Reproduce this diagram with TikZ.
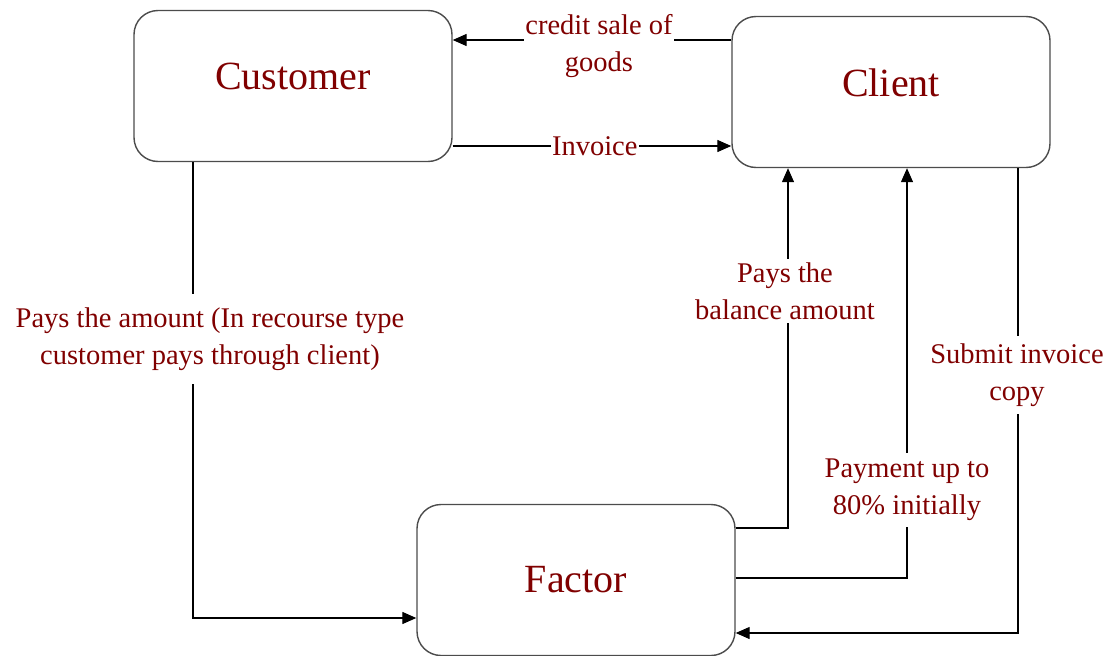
\documentclass[tikz,border=0pt]{standalone}
\usepackage{fontspec}
\setmainfont{Liberation Serif}
\usetikzlibrary{arrows.meta,calc}
\definecolor{labelred}{RGB}{128,0,0}

\begin{document}
\begin{tikzpicture}[x=1pt,y=-1pt,
  entity/.style={draw=black!70, line width=1.4pt, rounded corners=24pt,
    minimum width=318pt, minimum height=151pt, fill=white,
    text=labelred, font=\fontsize{40}{44}\selectfont},
  flow/.style={draw=black, line width=1.3pt, -{Triangle[length=14pt,width=12pt]}},
  tag/.style={fill=white, text=labelred, align=center, inner xsep=1pt, inner ysep=3pt,
    font=\fontsize{28.5}{37}\selectfont}]
\useasboundingbox (0,0) rectangle (1104,656);

% parties
\node[entity, text depth=20pt] (cust)   at (293,86)  {Customer};
\node[entity, text depth=18pt] (client) at (891,92)  {Client};
\node[entity]                  (factor) at (576,580) {Factor};

% goods and invoice between client and customer
\draw[flow] ([yshift=52pt]client.west) -- ([yshift=46pt]cust.east)
  node[tag, pos=0.475, yshift=-6pt] (credit) {credit sale of\\goods};
\draw[flow] ([yshift=-60pt]cust.east) -- ([yshift=-54pt]client.west)
  node[tag, pos=0.51] (inv) {Invoice};

% customer pays the factor
\draw[flow] ([xshift=-100pt]cust.south) |- ([yshift=-38pt]factor.west);
\node[tag, inner ysep=14pt] (paylbl) at (210,339)
  {Pays the amount (In recourse type\\customer pays through client)};

% factor pays the client
\draw[flow] ([yshift=52pt]factor.east) -| ([xshift=-103pt]client.south);
\node[tag] (ballbl) at (785,291) {Pays the\\balance amount};

\draw[flow] ([yshift=2pt]factor.east) -| ([xshift=16pt]client.south);
\node[tag, inner ysep=6pt] (advlbl) at (907,490) {Payment up to\\80\% initially};

% client sends invoice copy to the factor
\draw[flow] ([xshift=127pt]client.south) |- ([yshift=-53pt]factor.east);
\node[tag, inner ysep=8pt] (sublbl) at (1017,375) {Submit invoice\\copy};
\end{tikzpicture}
\end{document}
